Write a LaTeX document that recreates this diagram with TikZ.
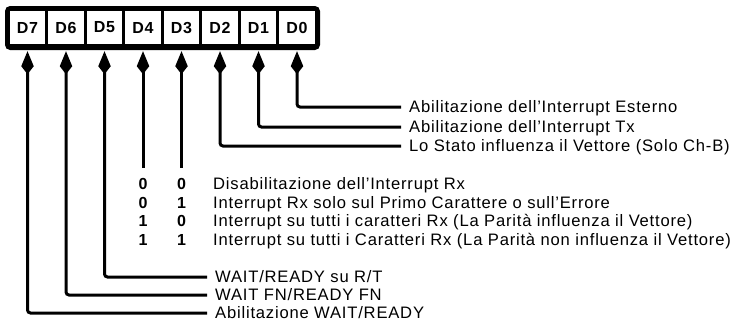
\documentclass[tikz,border=0pt]{standalone}
\usepackage{fontspec}
\setmainfont{Liberation Sans}[LetterSpace=4.8]
\usetikzlibrary{arrows.meta}
\begin{document}
\begin{tikzpicture}[x=1pt,y=-1pt,
  cell/.style={fill=white,minimum width=35.5pt,minimum height=33pt,inner sep=0pt,font=\fontsize{16}{16}\selectfont\bfseries},
  lbl/.style={anchor=west,inner xsep=8pt,inner ysep=0pt,text height=11.8pt,text depth=0pt,font=\fontsize{16.6}{18}\selectfont},
  bit/.style={inner sep=0pt,text height=11.8pt,text depth=0pt,font=\fontsize{16}{18}\selectfont\bfseries},
  conn/.style={line width=3pt,rounded corners=3pt,{Kite[length=23pt,width=12.5pt,inset=8pt]}-,shorten <=7pt}]
\useasboundingbox (0,0) rectangle (735,325);
\node[fill=black,rounded corners=5pt,minimum width=315pt,minimum height=44pt,inner sep=0pt] (reg) at (162.5,28) {};
\foreach \n [count=\i from 0] in {7,6,5,4,3,2,1,0}
  \node[cell] (d\n) at (27.5+38.5*\i,27.5) {D\n};
% right group
\node[lbl] (t0) at (401,107) {Abilitazione dell'Interrupt Esterno};
\node[lbl] (t1) at (401,127) {Abilitazione dell'Interrupt Tx};
\node[lbl] (t2) at (401,146) {Lo Stato influenza il Vettore (Solo Ch-B)};
\draw[conn] (d0.south) |- (t0.west);
\draw[conn] (d1.south) |- (t1.west);
\draw[conn] (d2.south) |- (t2.west);
% D4 D3
\coordinate (e4) at (143,168);
\coordinate (e3) at (181.5,168);
\draw[conn] (d4.south) -- (e4);
\draw[conn] (d3.south) -- (e3);
\node[bit] (a1) at (143,184) {0}; \node[bit] (b1) at (181.5,184) {0};
\node[bit] (a2) at (143,203) {0}; \node[bit] (b2) at (181.5,203) {1};
\node[bit] (a3) at (143,221) {1}; \node[bit] (b3) at (181.5,221) {0};
\node[bit] (a4) at (143,240) {1}; \node[bit] (b4) at (181.5,240) {1};
\node[lbl] (r1) at (205,184) {Disabilitazione dell'Interrupt Rx};
\node[lbl] (r2) at (205,203) {Interrupt Rx solo sul Primo Carattere o sull'Errore};
\node[lbl] (r3) at (205,221) {Interrupt su tutti i caratteri Rx (La Parità influenza il Vettore)};
\node[lbl] (r4) at (205,240) {Interrupt su tutti i Caratteri Rx (La Parità non influenza il Vettore)};
% bottom group
\node[lbl] (t5) at (207,277) {WAIT/READY su R/T};
\node[lbl] (t6) at (207,295) {WAIT FN/READY FN};
\node[lbl] (t7) at (207,313) {Abilitazione WAIT/READY};
\draw[conn] (d5.south) |- (t5.west);
\draw[conn] (d6.south) |- (t6.west);
\draw[conn] (d7.south) |- (t7.west);
\end{tikzpicture}
\end{document}
